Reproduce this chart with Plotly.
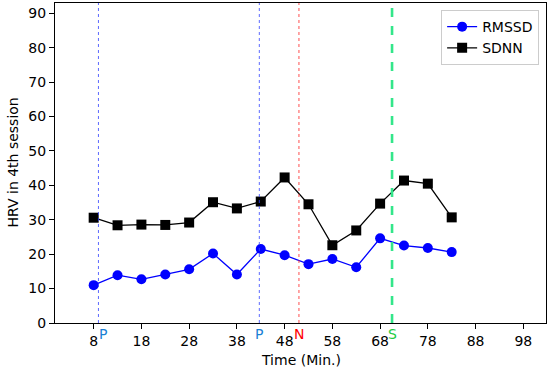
import plotly.graph_objects as go

time_min = [8, 13, 18, 23, 28, 33, 38, 43, 48, 53, 58, 63, 68, 73, 78, 83]
rmssd = [11.0, 13.9, 12.7, 14.1, 15.6, 20.2, 14.1, 21.5, 19.7, 17.1, 18.6, 16.2, 24.6, 22.5, 21.8, 20.6]
sdnn = [30.6, 28.4, 28.6, 28.5, 29.2, 35.1, 33.3, 35.3, 42.3, 34.5, 22.6, 26.9, 34.7, 41.4, 40.5, 30.7]
x_ticks = [8, 18, 28, 38, 48, 58, 68, 78, 88, 98]
y_ticks = [0, 10, 20, 30, 40, 50, 60, 70, 80, 90]

event_x = [9, 42.7, 51, 70.5]
event_label_x = [10, 42.7, 51, 70.5]
event_labels = ["P", "P", "N", "S"]
event_text_colors = ["#1a7fd4", "#1a7fd4", "#ff0000", "#22cc44"]
event_line_colors = ["#3344ff", "#3344ff", "#ff2222", "#33e68a"]
event_line_dash = ["dot", "dot", "dot", "dash"]
event_line_width = [0.8, 0.8, 0.8, 2.6]

font = "DejaVu Sans"
fs = 14
fig = go.Figure()
fig.add_trace(go.Scatter(x=time_min, y=rmssd, mode="lines+markers", name="RMSSD",
                         line=dict(color="#0000ff", width=1.3),
                         marker=dict(symbol="circle", size=10, color="#0000ff")))
fig.add_trace(go.Scatter(x=time_min, y=sdnn, mode="lines+markers", name="SDNN",
                         line=dict(color="#000000", width=1.3),
                         marker=dict(symbol="square", size=10, color="#000000")))

for xv, c, d, w in zip(event_x, event_line_colors, event_line_dash, event_line_width):
    fig.add_shape(type="line", xref="x", yref="paper", x0=xv, x1=xv, y0=0, y1=1,
                  line=dict(color=c, dash=d, width=w), layer="above")
for xv, t, c in zip(event_label_x, event_labels, event_text_colors):
    fig.add_annotation(x=xv, xref="x", y=0, yref="paper", yshift=-1, text=t, showarrow=False,
                       xanchor="center", yanchor="top", font=dict(family=font, size=14, color=c))

fig.add_annotation(x=0.5, xref="paper", y=-0.1156, yref="paper", text="Time (Min.)",
                   showarrow=False, xanchor="center", yanchor="middle",
                   font=dict(family=font, size=fs, color="black"))
fig.add_annotation(x=-0.0865, xref="paper", y=0.5, yref="paper", text="HRV in 4th session",
                   showarrow=False, xanchor="center", yanchor="middle", textangle=-90,
                   font=dict(family=font, size=fs, color="black"))

fig.update_layout(
    width=550, height=371,
    margin=dict(l=55, r=4, t=3, b=48, autoexpand=False),
    paper_bgcolor="white", plot_bgcolor="white",
    font=dict(family=font, size=fs, color="black"),
    showlegend=True,
    legend=dict(x=0.986, y=0.978, xanchor="right", yanchor="top",
                bordercolor="#cccccc", borderwidth=1, bgcolor="white",
                tracegroupgap=0, itemwidth=30,
                font=dict(family=font, size=fs)),
    xaxis=dict(range=[-0.1, 102.75], tickvals=x_ticks, ticktext=[str(v) for v in x_ticks],
               showgrid=False, zeroline=False, showline=True, mirror=True, automargin=False,
               linecolor="black", linewidth=1, ticks="outside", ticklen=5, tickcolor="black"),
    yaxis=dict(range=[0, 93], tickvals=y_ticks, automargin=False,
               showgrid=False, zeroline=False, showline=True, mirror=True,
               linecolor="black", linewidth=1, ticks="outside", ticklen=5, tickcolor="black"),
)
fig.write_html("out.html", config={"displayModeBar": False},
               post_script="document.body.style.margin='0';document.body.style.overflow='hidden';")
